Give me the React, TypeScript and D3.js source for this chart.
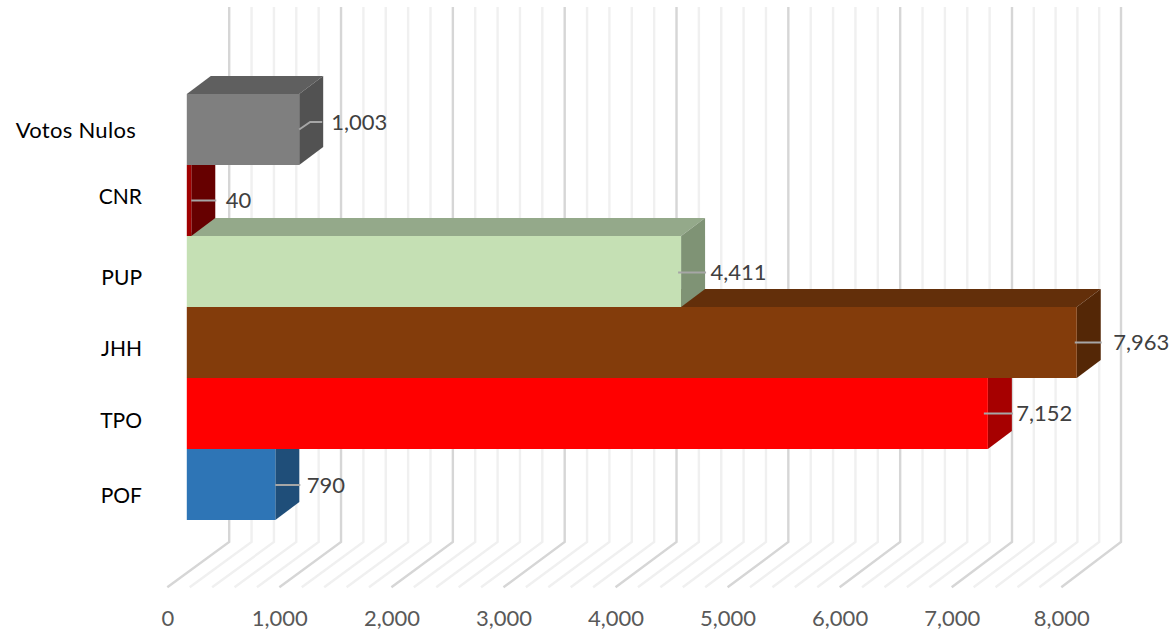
import React from "react";
import * as d3 from "d3";

const categories = ["POF", "TPO", "JHH", "PUP", "CNR", "Votos Nulos"];
const votes = [790, 7152, 7963, 4411, 40, 1003];
const frontColors = ["#2e75b6", "#ff0000", "#833c0b", "#c5e0b4", "#a00000", "#7f7f7f"];
const topColors = ["#265f94", "#bf0000", "#632f0a", "#94a98a", "#7a0000", "#5f5f5f"];
const sideColors = ["#1f4e79", "#a60000", "#542706", "#7f9375", "#660000", "#525252"];
const axisTicks = [0, 1000, 2000, 3000, 4000, 5000, 6000, 7000, 8000];
const gridValues = d3.range(0, 8001, 200);

const W = 1172;
const H = 632;
const frontX = d3.scaleLinear().domain([0, 7000, 8000]).range([167.3, 951.7, 1061.3]);
const backX = d3.scaleLinear().domain([0, 7000, 8000]).range([229.2, 1012, 1121]);
const y = d3.scaleBand<string>().domain([...categories].reverse()).range([94, 520]).padding(0);
const fmt = d3.format(",");

const floorFrontY = 587.3;
const floorBackY = 542;
const wallTopY = 7;
const barInsetX = 19.5;
const depthX = 24;
const depthY = 18;

// hand-placed offsets seen in the reference, from each bar's centre
const catLabelDy = [11.5, 7, 6.5, 6.5, -3.5, 1];
const valueDx = [31.5, 28.5, 36.5, 29.5, 34.5, 32];
const valueDy = [0.5, 0, 0, 1, 0, -7.5];
const leaderStart = [0, -4, -2, -3, 0, 0];

const poly = (pts: [number, number][]) => d3.line()(pts) + "Z";

export default function App() {
  const order = categories.map((_, i) => i);
  return (
    <svg
      width={W}
      height={H}
      viewBox={`0 0 ${W} ${H}`}
      style={{ position: "absolute", left: 0, top: 0, background: "#fff" }}
      fontFamily="Lato, Carlito, sans-serif"
    >
      <g fill="none">
        {gridValues.map((v) => {
          const major = v % 1000 === 0;
          return (
            <path
              key={v}
              d={d3.line()([
                [frontX(v), floorFrontY],
                [backX(v), floorBackY],
                [backX(v), wallTopY],
              ]) as string}
              stroke={major ? "#d6d6d6" : "#f0f0f0"}
              strokeWidth={2.4}
            />
          );
        })}
      </g>
      {order.map((i) => {
        const x0 = frontX(0) + barInsetX;
        const x1 = frontX(votes[i]) + barInsetX;
        const t = y(categories[i]) as number;
        const b = t + y.bandwidth();
        return (
          <g key={categories[i]}>
            <path d={poly([[x0, t], [x0 + depthX, t - depthY], [x1 + depthX, t - depthY], [x1, t]])} fill={topColors[i]} />
            <path d={poly([[x1, t], [x1 + depthX, t - depthY], [x1 + depthX, b - depthY], [x1, b]])} fill={sideColors[i]} />
            <path d={poly([[x0, t], [x1, t], [x1, b], [x0, b]])} fill={frontColors[i]} />
          </g>
        );
      })}
      {order.map((i) => {
        const x1 = frontX(votes[i]) + barInsetX;
        const t = y(categories[i]) as number;
        const cy = t + y.bandwidth() / 2 + valueDy[i];
        const isElbow = categories[i] === "Votos Nulos";
        const pts: [number, number][] = isElbow
          ? [[x1, cy + 7.5], [x1 + 11, cy], [x1 + 23, cy]]
          : [[x1 + leaderStart[i], cy], [x1 + depthX + 1, cy]];
        return (
          <g key={categories[i]}>
            <path d={d3.line()(pts) as string} fill="none" stroke="#a6a6a6" strokeWidth={2} />
            <text x={x1 + valueDx[i]} y={cy} dy="0.35em" fontSize={22} fill="#404040">
              {fmt(votes[i])}
            </text>
          </g>
        );
      })}
      {order.map((i) => (
        <text
          key={categories[i]}
          x={categories[i] === "Votos Nulos" ? 136 : 142}
          y={(y(categories[i]) as number) + y.bandwidth() / 2 + catLabelDy[i]}
          dy="0.35em"
          textAnchor="end"
          fontSize={categories[i] === "Votos Nulos" ? 22 : 21}
          letterSpacing={categories[i] === "Votos Nulos" ? 0.3 : 0}
          fill="#000"
        >
          {categories[i]}
        </text>
      ))}
      {axisTicks.map((v) => (
        <text key={v} x={frontX(v) + 0.5} y={618} dy="0.35em" textAnchor="middle" fontSize={22} fill="#595959">
          {fmt(v)}
        </text>
      ))}
    </svg>
  );
}
